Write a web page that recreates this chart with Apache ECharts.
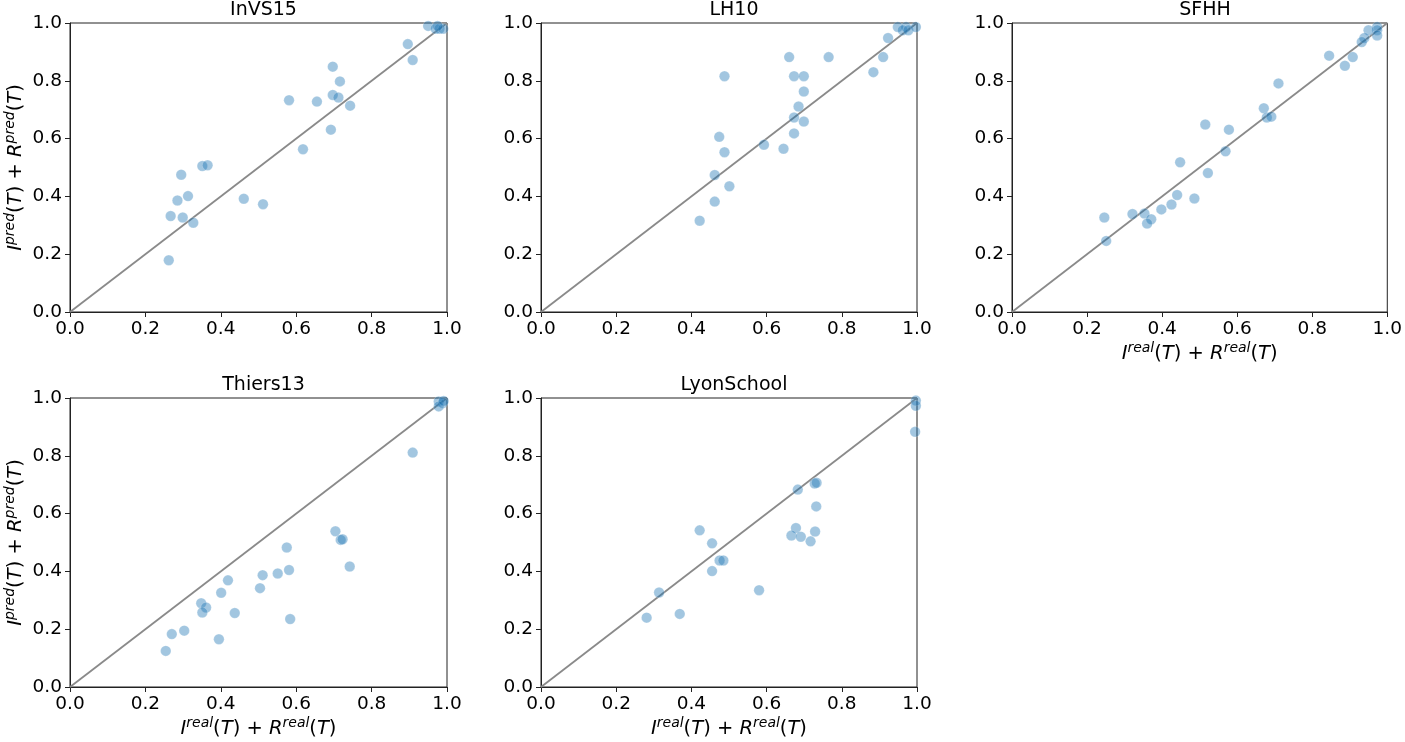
<!DOCTYPE html>
<html>
<head>
<meta charset="utf-8">
<script src="https://cdn.jsdelivr.net/npm/echarts@6/dist/echarts.min.js"></script>
<style>html,body{margin:0;padding:0;background:#fff;}#c{width:1405px;height:742px;}</style>
</head>
<body>
<div id="c"></div>
<script>
const titles = ['InVS15', 'LH10', 'SFHH', 'Thiers13', 'LyonSchool'];
const tickValues = [0, 0.2, 0.4, 0.6, 0.8, 1.0];
const diagonal = [[0, 0], [1, 1]];

const invs15 = [[0.95,0.99],[0.97,0.98],[0.98,0.98],[0.99,0.98],[0.975,0.99],
  [0.896,0.927],[0.909,0.872],[0.697,0.849],[0.716,0.798],[0.697,0.751],[0.712,0.742],
  [0.743,0.714],[0.581,0.733],[0.655,0.728],[0.692,0.631],[0.618,0.563],[0.351,0.505],
  [0.365,0.508],[0.295,0.475],[0.313,0.401],[0.285,0.386],[0.267,0.332],[0.299,0.327],
  [0.327,0.309],[0.461,0.392],[0.512,0.373],[0.262,0.179]];
const lh10 = [[0.949,0.986],[0.971,0.986],[0.962,0.975],[0.977,0.975],[0.997,0.986],
  [0.923,0.948],[0.910,0.882],[0.884,0.830],[0.660,0.882],[0.765,0.882],[0.488,0.816],
  [0.673,0.816],[0.699,0.816],[0.699,0.763],[0.685,0.711],[0.673,0.673],[0.699,0.659],
  [0.673,0.618],[0.474,0.606],[0.593,0.579],[0.645,0.565],[0.488,0.553],[0.462,0.474],
  [0.501,0.435],[0.462,0.382],[0.422,0.316]];
const sfhh = [[0.973,0.986],[0.973,0.975],[0.973,0.957],[0.950,0.975],[0.939,0.948],
  [0.932,0.934],[0.845,0.887],[0.908,0.882],[0.887,0.852],[0.710,0.791],[0.671,0.705],
  [0.679,0.673],[0.691,0.676],[0.515,0.649],[0.578,0.631],[0.569,0.556],[0.448,0.518],
  [0.522,0.481],[0.440,0.405],[0.486,0.393],[0.425,0.372],[0.398,0.355],[0.321,0.339],
  [0.353,0.341],[0.371,0.321],[0.360,0.306],[0.246,0.327],[0.251,0.246]];
const thiers13 = [[0.978,0.988],[0.989,0.983],[0.978,0.971],[0.991,0.990],
  [0.909,0.811],[0.704,0.539],[0.718,0.509],[0.723,0.511],[0.742,0.417],[0.575,0.483],
  [0.581,0.405],[0.551,0.393],[0.511,0.387],[0.504,0.342],[0.419,0.369],[0.401,0.326],
  [0.348,0.290],[0.361,0.275],[0.351,0.258],[0.437,0.256],[0.584,0.235],[0.303,0.195],
  [0.270,0.183],[0.395,0.165],[0.254,0.125]];
const lyonSchool = [[0.997,0.991],[0.997,0.973],[0.995,0.883],[0.683,0.683],
  [0.728,0.704],[0.733,0.707],[0.732,0.625],[0.678,0.550],[0.666,0.524],[0.691,0.520],
  [0.729,0.538],[0.717,0.504],[0.422,0.542],[0.455,0.497],[0.475,0.438],[0.485,0.438],
  [0.455,0.401],[0.580,0.335],[0.314,0.327],[0.369,0.253],[0.281,0.240]];

const panelData = [invs15, lh10, sfhh, thiers13, lyonSchool];
const grids = [
  {left: 70, top: 23, width: 377, height: 289},
  {left: 541, top: 23, width: 376, height: 289},
  {left: 1012, top: 23, width: 376, height: 289},
  {left: 70, top: 398, width: 377, height: 289},
  {left: 541, top: 398, width: 376, height: 289}
];
const showXName = [false, false, true, true, true];
const showYName = [true, false, false, true, false];

const FONT = 'DejaVu Sans';
const rich = {
  it: {fontFamily: FONT, fontStyle: 'italic', fontSize: 19.5, lineHeight: 26, color: '#000'},
  n: {fontFamily: FONT, fontSize: 19.5, lineHeight: 26, color: '#000'},
  sup: {fontFamily: FONT, fontStyle: 'italic', fontSize: 14, lineHeight: 14, verticalAlign: 'top', color: '#000'}
};
const xName = '{it|I}{sup|real}{n|(}{it|T}{n|) + }{it|R}{sup|real}{n|(}{it|T}{n|)}';
const yName = '{it|I}{sup|pred}{n|(}{it|T}{n|) + }{it|R}{sup|pred}{n|(}{it|T}{n|)}';

const option = {
  animation: false,
  backgroundColor: '#fff',
  title: titles.map((t, i) => ({
    text: t,
    left: grids[i].left + grids[i].width / 2,
    top: grids[i].top - 27,
    textAlign: 'center',
    textStyle: {fontFamily: FONT, fontSize: 19, fontWeight: 'normal', color: '#000'}
  })),
  grid: grids.map(g => Object.assign({show: true, borderColor: '#222', borderWidth: 1, backgroundColor: 'transparent'}, g)),
  xAxis: grids.map((g, i) => ({
    type: 'value', gridIndex: i, min: 0, max: 1, interval: 0.2,
    axisLine: {show: true, onZero: false, lineStyle: {color: '#222', width: 1}},
    axisTick: {show: true, length: 5, lineStyle: {color: '#222'}},
    axisLabel: {fontFamily: FONT, fontSize: 18.5, color: '#000', margin: 8,
      formatter: v => v.toFixed(1)},
    splitLine: {show: false},
    name: showXName[i] ? xName : '',
    nameLocation: 'middle', nameGap: 29,
    nameTextStyle: {rich: rich}
  })),
  yAxis: grids.map((g, i) => ({
    type: 'value', gridIndex: i, min: 0, max: 1, interval: 0.2,
    axisLine: {show: true, onZero: false, lineStyle: {color: '#222', width: 1}},
    axisTick: {show: true, length: 5, lineStyle: {color: '#222'}},
    axisLabel: {fontFamily: FONT, fontSize: 18.5, color: '#000', margin: 8,
      formatter: v => v.toFixed(1)},
    splitLine: {show: false},
    name: showYName[i] ? yName : '',
    nameLocation: 'middle', nameGap: 41, nameRotate: 90,
    nameTextStyle: {rich: rich}
  })),
  series: []
};

panelData.forEach((d, i) => {
  option.series.push({
    type: 'line', xAxisIndex: i, yAxisIndex: i, data: diagonal,
    showSymbol: false, symbol: 'none', silent: true,
    lineStyle: {color: '#8a8a8a', width: 1.8}, z: 1
  });
  option.series.push({
    type: 'scatter', xAxisIndex: i, yAxisIndex: i, data: d,
    symbolSize: 10.5,
    itemStyle: {color: 'rgba(31,119,180,0.52)', borderColor: 'rgba(255,255,255,0.5)', borderWidth: 0.5},
    z: 2
  });
});

const chart = echarts.init(document.getElementById('c'), null, {renderer: 'canvas'});
chart.setOption(option);
</script>
</body>
</html>
